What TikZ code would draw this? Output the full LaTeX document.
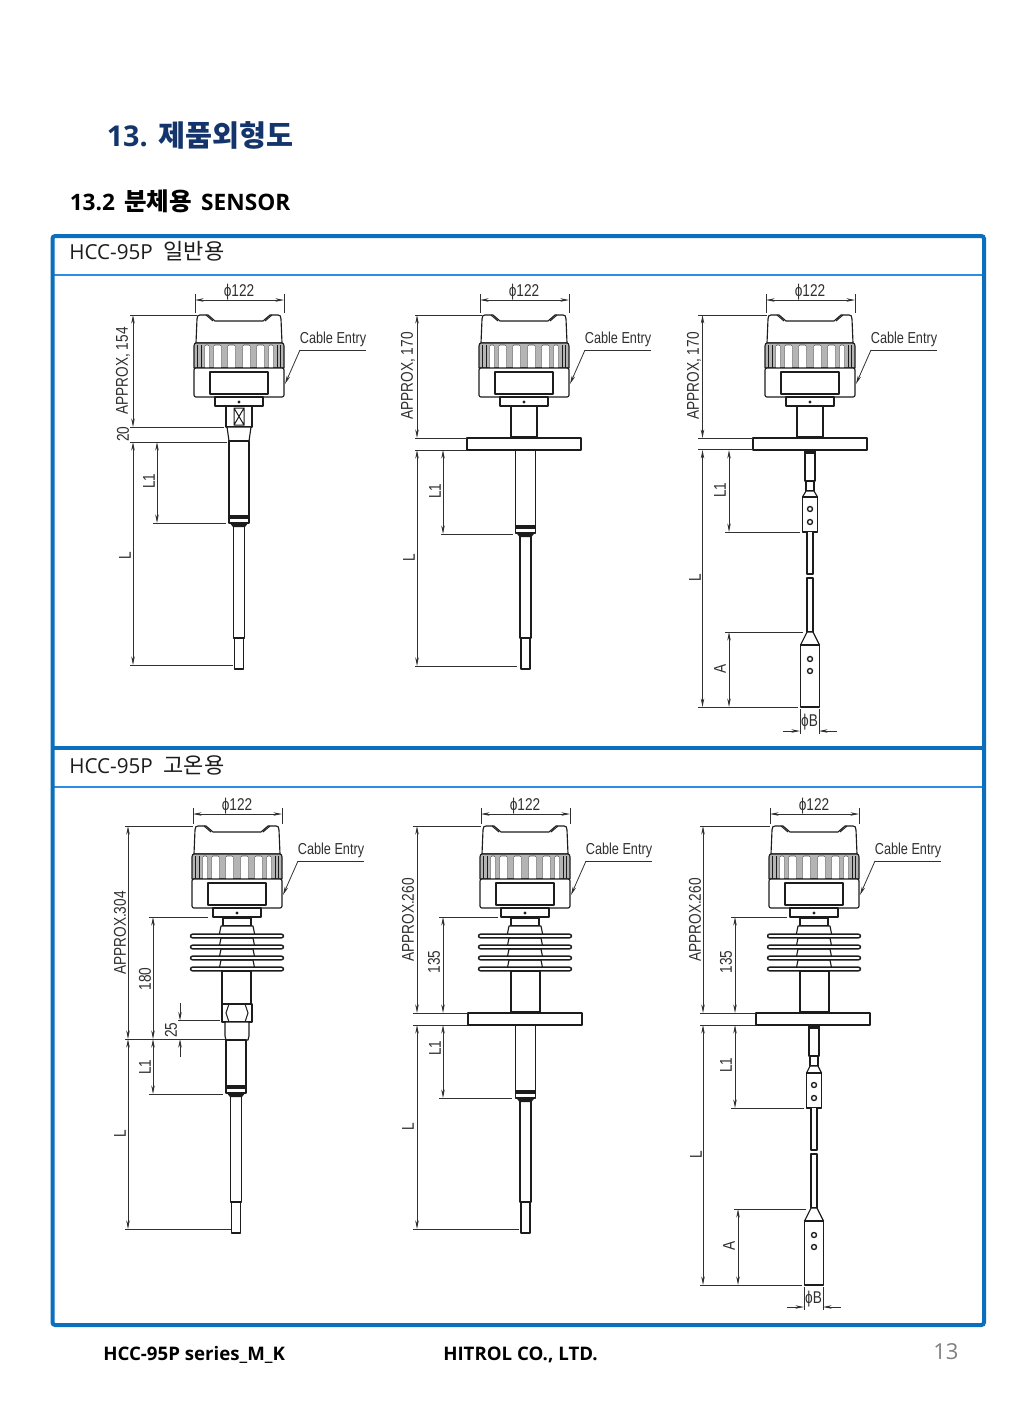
\documentclass[tikz,border=0pt]{standalone}
\usepackage{fontspec}
\usetikzlibrary{arrows.meta}
\setmainfont{Open Sans}
\newfontfamily\kr{Noto Sans CJK KR}
\newfontfamily\dimf[FakeStretch=0.8]{Liberation Sans}
\definecolor{frameblue}{HTML}{0B6FBE}
\definecolor{framelight}{HTML}{2A8FE0}
\definecolor{ttlblue}{HTML}{14356B}
\definecolor{ink}{HTML}{1C1C1C}
\definecolor{dimc}{HTML}{303030}
\definecolor{ribg}{HTML}{B4B4B4}
\tikzset{
 part/.style={draw=ink,line width=.85pt,fill=white,line join=round},
 thin part/.style={draw=ink,line width=.75pt},
 rib/.style={draw=ink!75,line width=.4pt,fill=white},
 dimln/.style={draw=dimc,line width=.6pt},
 dimar/.style={draw=dimc,line width=.6pt,{Stealth[length=6.5pt,width=2.6pt]}-{Stealth[length=6.5pt,width=2.6pt]}},
 dimone/.style={draw=dimc,line width=.6pt,-{Stealth[length=6.5pt,width=2.6pt]}},
 dimtxt/.style={font=\dimf\fontsize{12.8pt}{14pt}\selectfont,text=dimc,inner sep=0pt},
 ttl/.style={anchor=west,inner sep=0pt},
}
% vertical dimension with arrows: x, y1, y2
\newcommand\vdim[3]{\draw[dimar] (#1,#2) -- (#1,#3);}
% horizontal extension line: y, x1, x2
\newcommand\ext[3]{\draw[dimln] (#2,#1) -- (#3,#1);}
% rotated label
\newcommand\vlab[3]{\node[dimtxt,rotate=90] at (#1,#2) {#3};}
% transmitter head: cx, top, offset of the phi dimension
\newcommand\headpart[3]{%
\begin{scope}[shift={(#1,#2)}]
 \draw[part] (-43,28) -- (-42,4) .. controls (-42,1) and (-41,0) .. (-39,0) -- (-31,0) -- (-24,6) -- (24,6) -- (31,0) -- (39,0) .. controls (41,0) and (42,1) .. (42,4) -- (43,28) -- cycle;
 \draw[thin part] (-33,0) -- (-26,6) (33,0) -- (26,6);
 \draw[part,fill=ribg] (-45,53) -- (-45,31) .. controls (-45,29) and (-44,28) .. (-43,28) -- (43,28) .. controls (44,28) and (45,29) .. (45,31) -- (45,53) -- cycle;
 \foreach \a/\b in {-34/-30,-25/-18,-11/-4,4/11,18/25,30/34}{\draw[rib] (\a,53) -- (\a,31) -- (\a+1,30) -- (\b-1,30) -- (\b,31) -- (\b,53);\fill[white] (\a+.3,31) rectangle (\b-.3,52.5);}
 \foreach \r in {38,41.5}{\draw[draw=ink,line width=.7pt] (-\r,30) -- (-\r,53) (\r,30) -- (\r,53);}
 \draw[part,rounded corners=1.5pt] (-45,53) -- (-45,82) -- (45,82) -- (45,53) -- cycle;
 \draw[part] (-29,57) rectangle (29,79);
 \draw[part] (-24,82) rectangle (24,91);
 \fill[ink] (0,87) circle (1.6);
 % phi dimension
 \draw[dimln] (-44,-#3-6) -- (-44,-2) (45,-#3-6) -- (45,-2);
 \draw[dimar] (-44,-#3) -- (45,-#3);
 \node[dimtxt] at (0,-#3-8) {ϕ122};
 % cable entry
 \node[dimtxt,font=\dimf\fontsize{11.9pt}{14pt}\selectfont] at (94,24.5) {Cable Entry};
 \draw[dimln] (127,35) -- (61,35);
 \draw[dimone] (61,35) -- (46,69);
\end{scope}}
% cooling fins: cx
\newcommand\finspart[1]{%
\begin{scope}[shift={(#1,0)}]
 \draw[part] (-14,918) rectangle (14,926);
 \foreach \yy in {926,938,949,960}{\draw[part] (-16,\yy) -- (-18,\yy+10) -- (18,\yy+10) -- (16,\yy) -- cycle;}
 \foreach \yy in {936,947,958,969}{\draw[part,rounded corners=1.5pt,line width=1.1pt] (-46.5,\yy-1.8) rectangle (46.5,\yy+1.8);}
\end{scope}}
% straight tube with band and rod: cx, top, band y, tip y
\newcommand\tubepart[4]{%
\begin{scope}[shift={(#1,0)}]
 \draw[part] (-4.5,#4-31) -- (-4.5,#4) -- (4.5,#4) -- (4.5,#4-31);
 \draw[part] (-5.5,#3+10) -- (-5.5,#4-31) -- (5.5,#4-31) -- (5.5,#3+10) -- cycle;
 \draw[part] (-10,#2) -- (-10,#3+8) -- (10,#3+8) -- (10,#2) -- cycle;
 \fill[ink] (-10,#3) rectangle (10,#3+3.5);
 \fill[ink] (-9.5,#3+7.5) -- (-6,#3+12) -- (6,#3+12) -- (9.5,#3+7.5) -- cycle;
\end{scope}}
% flange: cx, top
\newcommand\flangepart[2]{%
\begin{scope}[shift={(#1,#2)}]
 \draw[part] (-57,0) rectangle (57,12);
 \draw[line width=1.2pt,draw=ink] (-34,12.5) -- (34,12.5);
\end{scope}}
% stem base thick line: x1, x2, y
\newcommand\stembase[3]{\draw[line width=1.6pt,draw=ink] (#1,#3-.5) -- (#2,#3-.5);}
% rod probe: cx, flange bottom y, upper-block bottom, A top, bottom
\newcommand\rodpart[5]{%
\begin{scope}[shift={(#1,0)}]
 \fill[ink] (-6,#2) rectangle (6,#2+3);
 \draw[part] (-5,#2+3) rectangle (5,#2+31);
 \draw[part] (-4,#2+31) rectangle (4,#2+41);
 \draw[part] (-7.5,#3-35) -- (-4,#2+41) -- (4,#2+41) -- (7.5,#3-35) -- cycle;
 \draw[part] (-7.5,#3-35) rectangle (7.5,#3);
 \draw[thin part,line width=1pt] (0,#3-23) circle (2.5) (0,#3-10) circle (2.5);
 \draw[part] (-3,#3) -- (-3,#3+42) -- (3,#3+42) -- (3,#3);
 \draw[part] (-3,#3+46) -- (-3,#4) -- (3,#4) -- (3,#3+46) -- cycle;
 \draw[part] (-3,#4) -- (-9.5,#4+13) -- (9.5,#4+13) -- (3,#4) -- cycle;
 \draw[part] (-9.5,#4+13) rectangle (9.5,#5);
 \draw[thin part,line width=1pt] (0,#4+27) circle (2.5) (0,#4+39) circle (2.5);
\end{scope}}
% phi B: cx, bottom, arrow y, text y
\newcommand\phib[4]{%
\begin{scope}[shift={(#1,0)}]
 \draw[dimln] (-9.5,#2+2) -- (-9.5,#3+3) (9.5,#2+2) -- (9.5,#3+3);
 \draw[dimone] (-27,#3) -- (-9.5,#3);
 \draw[dimone] (27,#3) -- (9.5,#3);
 \node[dimtxt] at (0,#4) {ϕB};
\end{scope}}
\begin{document}
\begin{tikzpicture}[x=.75pt,y=-.75pt]
\useasboundingbox (0,0) rectangle (1023,1417);
\fill[white] (0,0) rectangle (1023,1417);

% headings
\node[ttl,text=ttlblue,font=\bfseries\fontsize{21.5pt}{24pt}\selectfont] at (106.5,135) {13.\hspace{.5pt} {\kr\bfseries\fontsize{22pt}{24pt}\selectfont 제품외형도}};
\node[ttl,text=black,font=\bfseries\fontsize{17pt}{20pt}\selectfont] at (69.5,201.5) {13.2\hspace{2.5pt} {\kr\bfseries\fontsize{18.4pt}{20pt}\selectfont 분체용}\hspace{2.5pt} SENSOR};
\node[ttl,text=ink,font=\fontsize{15.5pt}{18pt}\selectfont] at (69,251) {HCC-95P\hspace{4pt} {\kr\fontsize{16.5pt}{18pt}\selectfont 일반용}};
\node[ttl,text=ink,font=\fontsize{15.5pt}{18pt}\selectfont] at (69,765) {HCC-95P\hspace{4pt} {\kr\fontsize{16.5pt}{18pt}\selectfont 고온용}};

% frame
\draw[framelight,line width=1.5pt] (52,275) -- (984,275);
\draw[frameblue,line width=2.4pt] (52,748) -- (984,748);
\draw[framelight,line width=1.5pt] (52,787) -- (984,787);
\draw[frameblue,line width=3pt,rounded corners=2pt] (52.5,236) rectangle (984,1325);

% footer
\node[ttl,text=black,font=\bfseries\fontsize{14pt}{16pt}\selectfont] at (103,1354.5) {HCC-95P series\_M\_K};
\node[ttl,text=black,font=\bfseries\fontsize{14pt}{16pt}\selectfont] at (443,1354.5) {HITROL CO., LTD.};
\node[ttl,text=gray,font=\fontsize{16.5pt}{20pt}\selectfont] at (933,1352) {13};

%%%% ROW 1
% --- A
\begin{scope}[shift={(239,0)}]
 \draw[part] (-13,406) rectangle (13,427);
 \draw[thin part] (-5,408) rectangle (5,425) (-5,408) -- (5,425) (5,408) -- (-5,425);
 \draw[part] (-12,427) -- (-10,441) -- (10,441) -- (12,427) -- cycle;
\end{scope}
\tubepart{239}{441}{515}{669}
\headpart{239}{315}{15}
\ext{315}{130}{197}\ext{427}{130}{224}\ext{442}{130}{227}\ext{523}{153}{226}\ext{665}{130}{233}
\vdim{133}{315}{427}\vdim{133}{442}{665}\vdim{157}{442}{523}
\vlab{123}{371}{APPROX, 154}\vlab{123}{434}{20}\vlab{149}{481}{L1}\vlab{125}{556}{L}

% --- B
\draw[part] (511,406) rectangle (537,438);
\stembase{511}{537}{438}
\flangepart{524}{438}
\tubepart{525.5}{450}{525}{669}
\headpart{524}{315}{15}
\ext{315}{415}{482}\ext{438}{415}{467}\ext{450}{415}{467}\ext{534}{441}{513}\ext{666}{415}{517}
\vdim{417}{315}{438}\vdim{417}{450}{666}\vdim{443}{450}{534}
\vlab{408}{376}{APPROX, 170}\vlab{435}{491}{L1}\vlab{409}{558}{L}

% --- C
\draw[part] (797,406) rectangle (823,438);
\stembase{797}{823}{438}
\flangepart{810}{438}
\rodpart{810}{450}{532}{632}{707}
\headpart{810}{315}{15}
\ext{315}{698}{767}\ext{438}{698}{753}\ext{449.5}{698}{753}\ext{532}{725}{800}\ext{632}{725}{803}\ext{707}{698}{798}
\vdim{702.5}{315}{438}\vdim{702.5}{450}{707}\vdim{729}{450}{532}\vdim{729}{632}{707}
\phib{809.5}{707}{731}{722}
\vlab{694}{376}{APPROX, 170}\vlab{720}{490}{L1}\vlab{695}{578}{L}\vlab{720}{669}{A}

%%%% ROW 2
% --- A
\finspart{237}
\begin{scope}[shift={(237,0)}]
 \draw[part] (-15,971) rectangle (14,1004);
 \draw[part] (-15,1004) rectangle (15,1022);
 \draw[thin part] (-8,1004) -- (-11,1013) -- (-8,1022) (8,1004) -- (11,1013) -- (8,1022) (-8,1004) -- (8,1004) (-8,1022) -- (8,1022);
 \draw[part] (-12,1022) -- (-12,1036) -- (-11,1040) -- (11,1040) -- (12,1036) -- (12,1022) -- cycle;
\end{scope}
\tubepart{236}{1040}{1085}{1233}
\headpart{237}{826}{12}
\ext{826}{125}{193}\ext{917}{149}{208}\ext{1020.5}{178}{220}\ext{1039}{125}{225}\ext{1094}{149}{223}\ext{1229}{125}{231}
\vdim{128}{826}{1039}\vdim{128}{1039}{1229}\vdim{153}{917}{1039}\vdim{153}{1039}{1094}
\draw[dimone] (180,1003) -- (180,1020.5);
\draw[dimone] (180,1057) -- (180,1039);
\vlab{120}{933}{APPROX.304}\vlab{145}{979}{180}\vlab{171}{1030}{25}\vlab{145}{1067}{L1}\vlab{120}{1134}{L}

% --- B
\finspart{525}
\draw[part] (511,971) rectangle (540,1013);
\stembase{511}{540}{1013}
\flangepart{525}{1013}
\tubepart{525.5}{1025}{1090}{1233}
\headpart{525}{826}{12}
\ext{826}{413}{481}\ext{917}{439}{498}\ext{1013}{413}{468}\ext{1025}{413}{468}\ext{1098}{439}{512}\ext{1229}{413}{519}
\vdim{417}{826}{1013}\vdim{417}{1025}{1229}\vdim{443}{917}{1013}\vdim{443}{1025}{1098}
\vlab{408}{920}{APPROX.260}\vlab{434}{962}{135}\vlab{435}{1048}{L1}\vlab{408}{1127}{L}

% --- C
\finspart{814}
\draw[part] (800,971) rectangle (829,1013);
\stembase{800}{829}{1013}
\flangepart{813}{1013}
\rodpart{814}{1025}{1108}{1208}{1285}
\headpart{814}{826}{12}
\ext{826}{700}{770}\ext{917}{731}{787}\ext{1013}{700}{756}\ext{1025}{700}{756}\ext{1108}{731}{804}\ext{1209}{734}{806}\ext{1285}{700}{802}
\vdim{703}{826}{1013}\vdim{703}{1025}{1285}\vdim{735}{917}{1013}\vdim{735}{1025}{1108}\vdim{738}{1209}{1285}
\phib{813.5}{1285}{1307}{1299}
\vlab{695}{920}{APPROX.260}\vlab{726}{962}{135}\vlab{726}{1065}{L1}\vlab{696}{1155}{L}\vlab{729}{1246}{A}
\end{tikzpicture}
\end{document}
